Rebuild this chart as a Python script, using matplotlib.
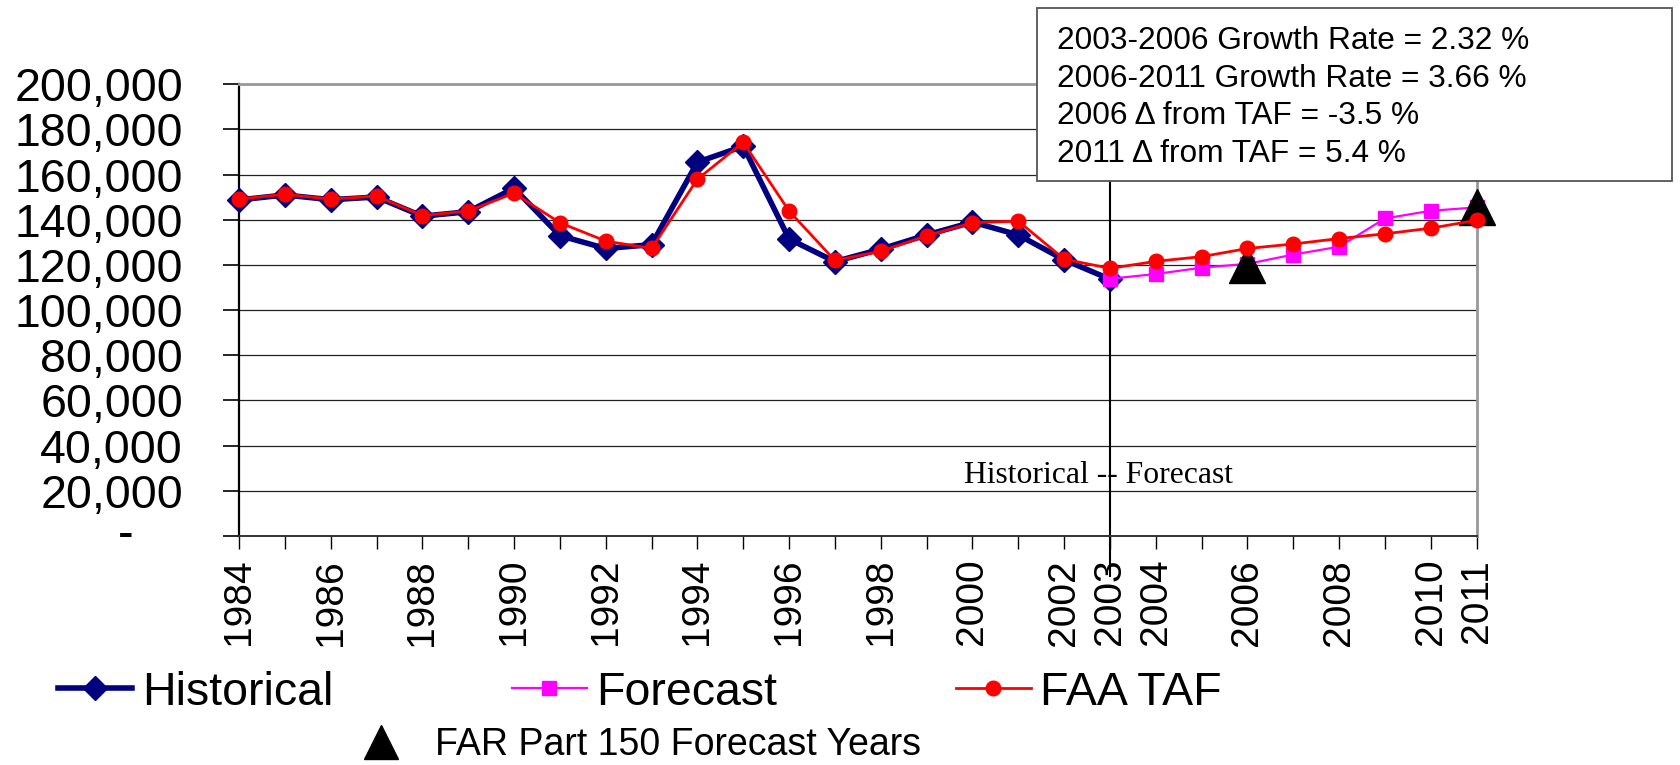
import matplotlib
matplotlib.use("Agg")
import matplotlib.pyplot as plt
from matplotlib.lines import Line2D
from matplotlib.patches import Rectangle
from matplotlib.ticker import FuncFormatter

# ---------------- data ----------------
hist_years = list(range(1984, 2004))
hist_vals = [148800, 151000, 148900, 150100, 141600, 143600, 154000, 133000,
             127300, 129000, 165500, 172600, 131500, 121500, 127000, 133300,
             139000, 133300, 122300, 113700]

fc_years = list(range(2003, 2012))
fc_vals = [113900, 116000, 118800, 120500, 124600, 128100, 140600, 144000, 145500]

taf_years = list(range(1984, 2012))
taf_vals = [149200, 151300, 149200, 150500, 141900, 143900, 151800, 138700,
            130600, 127300, 158000, 174300, 143900, 122000, 126100, 132900,
            138700, 139400, 122600, 118500, 121600, 123700, 127300, 129300,
            131700, 133800, 136300, 139800]

far_years = [2006, 2011]
far_vals = [120000, 145500]

tick_years = list(range(1984, 2012))
labeled_years = [1984, 1986, 1988, 1990, 1992, 1994, 1996, 1998, 2000, 2002,
                 2003, 2004, 2006, 2008, 2010, 2011]
y_ticks = list(range(0, 200001, 20000))

box_lines = ["2003-2006 Growth Rate = 2.32 %",
             "2006-2011 Growth Rate = 3.66 %",
             "2006 \u0394 from TAF = -3.5 %",
             "2011 \u0394 from TAF = 5.4 %"]

NAVY = "#000080"
MAG = "#FF00FF"
RED = "#FF0000"
FONT = "Liberation Sans"

W, H = 1681, 765
fig = plt.figure(figsize=(W / 100, H / 100), dpi=100)
ax = fig.add_axes([239 / W, 1 - 536 / H, (1476.7 - 239) / W, (536 - 84.3) / H])

# series
ax.plot(hist_years, hist_vals, color=NAVY, lw=4, marker="D", ms=12,
        mfc=NAVY, mec=NAVY, zorder=3, clip_on=False)
ax.plot(fc_years, fc_vals, color=MAG, lw=1.6, marker="s", ms=10,
        mfc=MAG, mec=MAG, zorder=4, clip_on=False)
ax.plot(far_years, far_vals, ls="none", marker="^", ms=26.5, color="black",
        zorder=5, clip_on=False)
ax.plot(taf_years, taf_vals, color=RED, lw=2, marker="o", ms=10.5,
        mfc=RED, mec=RED, zorder=6, clip_on=False)

# axes
ax.set_xlim(1984, 2011)
ax.set_ylim(0, 200000)
ax.set_xticks(tick_years)
ax.set_xticklabels([str(y) if y in labeled_years else "" for y in tick_years],
                   rotation=90, fontsize=28, family=FONT)
ax.set_yticks(y_ticks)
ax.yaxis.set_major_formatter(FuncFormatter(lambda v, p: "" if v == 0 else f"{int(v):,}"))
for lab in ax.get_yticklabels():
    lab.set_family(FONT)
ax.tick_params(axis="y", labelsize=33.5, length=11.3, width=1.2, pad=29, color="black")
ax.tick_params(axis="x", length=9.4, width=1.0, pad=7, color="black")
ax.text(-0.0913, 0, "-", transform=ax.get_yaxis_transform(), ha="center",
        va="center", fontsize=33.5, family=FONT)

ax.grid(axis="y", color="#222222", lw=0.9, zorder=1)
ax.set_axisbelow(True)
ax.spines["left"].set_color("black")
ax.spines["left"].set_linewidth(1.6)
ax.spines["bottom"].set_color("#333333")
ax.spines["bottom"].set_linewidth(1.4)
ax.spines["top"].set_color("#999999")
ax.spines["top"].set_linewidth(2)
ax.spines["right"].set_color("#999999")
ax.spines["right"].set_linewidth(2)

# historical / forecast divider
ax.axvline(2003, ymin=-0.088, ymax=0.79, color="black", lw=1.5, clip_on=False, zorder=2)
ax.text(2002.75, 23600, "Historical -- Forecast", ha="center", va="baseline",
        fontsize=22.8, family="Liberation Serif", zorder=7)

# annotation box
fig.patches.append(Rectangle((1037 / W, 1 - 181 / H), (1672 - 1037) / W, (181 - 7.5) / H,
                             transform=fig.transFigure, facecolor="white",
                             edgecolor="#555555", lw=1.3, zorder=5))
for txt, yb in zip(box_lines, [48.6, 86.9, 124.1, 162.4]):
    fig.text(1057.3 / W, 1 - yb / H, txt, ha="left", va="baseline",
             fontsize=22.8, family=FONT, zorder=6)

# legends
h1 = [Line2D([], [], color=NAVY, lw=4, marker="D", ms=12, mfc=NAVY, mec=NAVY),
      Line2D([], [], color=MAG, lw=1.6, marker="s", ms=10, mfc=MAG, mec=MAG),
      Line2D([], [], color=RED, lw=2, marker="o", ms=10.5, mfc=RED, mec=RED)]
leg1 = fig.legend(h1, ["Historical", "Forecast", "FAA TAF"], ncol=3,
                  loc="center left", bbox_to_anchor=(58 / W, 1 - 692.7 / H),
                  frameon=False, borderpad=0, borderaxespad=0,
                  handlelength=1.6, handletextpad=0.2, columnspacing=3.85,
                  prop={"family": FONT, "size": 33.5}, numpoints=1)
h2 = [Line2D([], [], ls="none", marker="^", ms=25, color="black")]
leg2 = fig.legend(h2, ["FAR Part 150 Forecast Years"], loc="center left",
                  bbox_to_anchor=(362 / W, 1 - 745 / H), frameon=False,
                  borderpad=0, borderaxespad=0, handlelength=1.0,
                  handletextpad=0.95, prop={"family": FONT, "size": 27},
                  numpoints=1)

fig.savefig("out.png", dpi=100, facecolor="white")
